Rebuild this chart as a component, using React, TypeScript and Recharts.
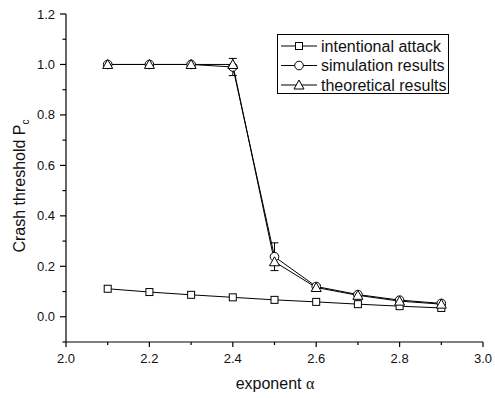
import { LineChart, Line, XAxis, YAxis, ErrorBar } from 'recharts'

const alphas = [2.1, 2.2, 2.3, 2.4, 2.5, 2.6, 2.7, 2.8, 2.9]
const attack = [0.111, 0.098, 0.087, 0.077, 0.067, 0.059, 0.05, 0.042, 0.035]
const simulation = [1.0, 1.0, 1.0, 0.99, 0.238, 0.12, 0.088, 0.066, 0.053]
const simulationErr = [0.004, 0.004, 0.004, 0.034, 0.055, 0.008, 0.006, 0.005, 0.004]
const theory = [1.0, 1.0, 1.0, 1.0, 0.218, 0.116, 0.085, 0.062, 0.05]

const xTicks = [2.0, 2.1, 2.2, 2.3, 2.4, 2.5, 2.6, 2.7, 2.8, 2.9, 3.0]
const yTicks = [-0.1, 0.0, 0.1, 0.2, 0.3, 0.4, 0.5, 0.6, 0.7, 0.8, 0.9, 1.0, 1.1, 1.2]

const legendItems = ['intentional attack', 'simulation results', 'theoretical results']

const data = alphas.map((a, i) => ({
  alpha: a,
  attack: attack[i],
  simulation: simulation[i],
  simErr: simulationErr[i],
  theory: theory[i],
}))

const FONT = '"Liberation Sans", Arial, sans-serif'
const isMajor = (v: number) => Math.round(v * 10) % 2 === 0

function XTick({ x, y, payload }: any) {
  const major = isMajor(payload.value)
  return (
    <g>
      <line x1={x} x2={x} y1={y} y2={y + (major ? 5 : 3)} stroke="#000" strokeWidth={1.2} />
      {major && (
        <text x={x} y={y + 21} textAnchor="middle" fontSize={13} fontFamily={FONT} fill="#111">
          {payload.value.toFixed(1)}
        </text>
      )}
    </g>
  )
}

function YTick({ x, y, payload }: any) {
  const major = isMajor(payload.value)
  return (
    <g>
      <line x1={x - (major ? 6 : 3.5)} x2={x} y1={y} y2={y} stroke="#000" strokeWidth={1.2} />
      {major && (
        <text x={x - 11} y={y + 4.5} textAnchor="end" fontSize={13} fontFamily={FONT} fill="#111">
          {payload.value.toFixed(1)}
        </text>
      )}
    </g>
  )
}

const square = (cx: number, cy: number, key?: any) => (
  <rect key={key} x={cx - 3.5} y={cy - 3.5} width={7} height={7} fill="#fff" stroke="#000" strokeWidth={1} />
)
const circle = (cx: number, cy: number, key?: any) => (
  <circle key={key} cx={cx} cy={cy} r={4.3} fill="#fff" stroke="#000" strokeWidth={1} />
)
const triangle = (cx: number, cy: number, key?: any) => (
  <path
    key={key}
    d={`M${cx},${cy - 5} L${cx + 5},${cy + 4} L${cx - 5},${cy + 4} Z`}
    fill="#fff"
    stroke="#000"
    strokeWidth={1}
  />
)

export default function App() {
  return (
    <div style={{ position: 'relative', width: 495, height: 398, fontFamily: FONT }}>
      <style>{`body{margin:0}`}</style>
      <LineChart width={495} height={398} data={data} margin={{ top: 14, right: 12, left: 0, bottom: 0 }}>
        <XAxis
          type="number"
          dataKey="alpha"
          domain={[2, 3]}
          ticks={xTicks}
          interval={0}
          height={56}
          tickSize={0}
          tickMargin={0}
          tickLine={false}
          tick={(p: any) => <XTick {...p} />}
          axisLine={{ stroke: '#000', strokeWidth: 1.2 }}
          label={{
            content: () => (
              <text x={275} y={389} textAnchor="middle" fontSize={16} fontFamily={FONT} fill="#111">
                exponent <tspan fontFamily='"Liberation Serif", serif'>α</tspan>
              </text>
            ),
          }}
        />
        <YAxis
          type="number"
          domain={[-0.1, 1.2]}
          ticks={yTicks}
          interval={0}
          width={66}
          tickSize={0}
          tickMargin={0}
          tickLine={false}
          tick={(p: any) => <YTick {...p} />}
          axisLine={{ stroke: '#000', strokeWidth: 1.2 }}
          label={{
            content: () => (
              <text
                x={25}
                y={186}
                transform="rotate(-90, 25, 186)"
                textAnchor="middle"
                fontSize={16}
                fontFamily={FONT}
                fill="#111"
              >
                Crash threshold P
                <tspan fontSize={10} dy={4}>c</tspan>
              </text>
            ),
          }}
        />
        <Line
          dataKey="attack"
          stroke="#000"
          strokeWidth={1}
          isAnimationActive={false}
          dot={(p: any) => square(p.cx, p.cy, p.index)}
        />
        <Line
          dataKey="simulation"
          stroke="#000"
          strokeWidth={1}
          isAnimationActive={false}
          dot={(p: any) => circle(p.cx, p.cy, p.index)}
        >
          <ErrorBar dataKey="simErr" direction="y" width={4} stroke="#000" strokeWidth={1} />
        </Line>
        <Line
          dataKey="theory"
          stroke="#000"
          strokeWidth={1}
          isAnimationActive={false}
          dot={(p: any) => triangle(p.cx, p.cy, p.index)}
        />
      </LineChart>
      <svg width={495} height={398} style={{ position: 'absolute', left: 0, top: 0, pointerEvents: 'none' }}>
        <rect x={277.5} y={34.5} width={171} height={59} fill="#fff" stroke="#000" strokeWidth={1} />
        {legendItems.map((name, i) => {
          const cy = 46 + i * 19.5
          const cx = 299
          return (
            <g key={name}>
              <line x1={281} x2={317} y1={cy} y2={cy} stroke="#000" strokeWidth={1} />
              {i === 0 ? square(cx, cy) : i === 1 ? circle(cx, cy) : triangle(cx, cy)}
              <text x={321} y={cy + 5.5} fontSize={16} fontFamily={FONT} fill="#111">
                {name}
              </text>
            </g>
          )
        })}
      </svg>
    </div>
  )
}
